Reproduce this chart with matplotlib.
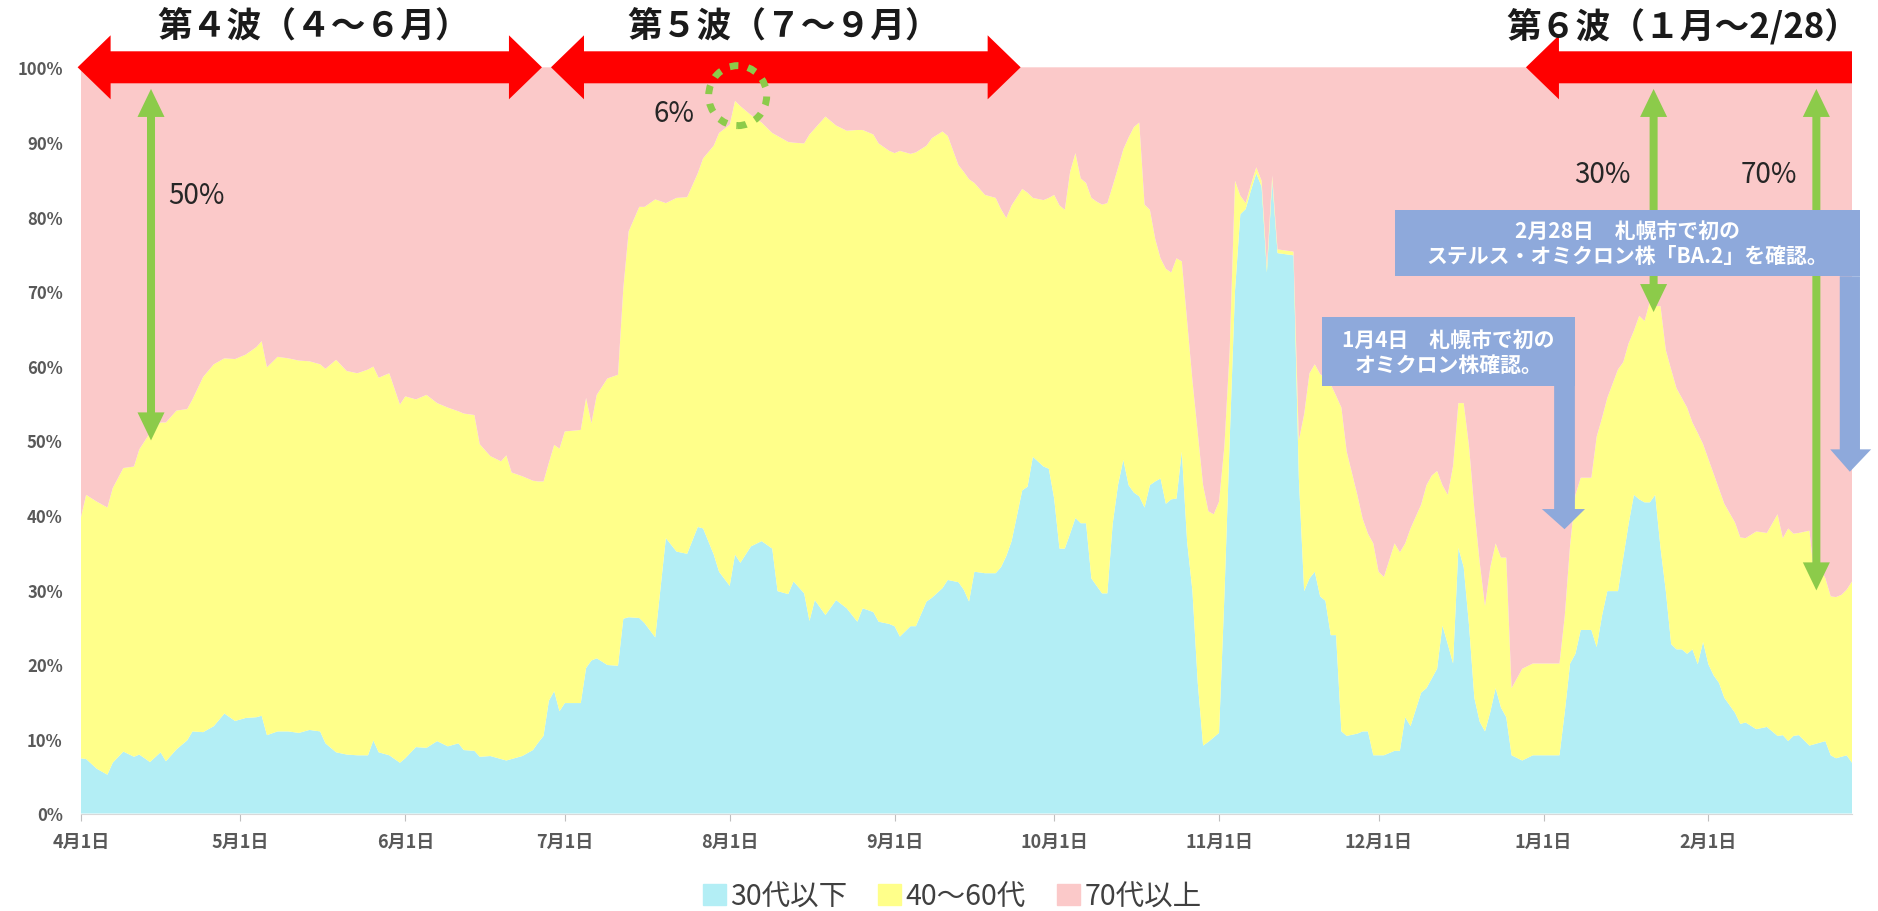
import pandas as pd
import matplotlib
matplotlib.use("Agg")
import matplotlib.pyplot as plt
from matplotlib.patches import Polygon, Rectangle, Ellipse

plt.rcParams['font.family'] = ['Noto Sans CJK JP', 'DejaVu Sans']

# days counted from 2021-04-01, shares in percent
start = pd.Timestamp("2021-04-01")
end = pd.Timestamp("2022-02-28")

day = [0, 1, 3, 5, 6, 8, 10, 11, 13, 15, 16, 18, 20, 21, 23, 25, 27, 29,
       31, 33, 34, 35, 37, 39, 41, 43, 45, 46, 48, 50, 52, 54, 55, 56, 58, 60,
       61, 63, 65, 67, 69, 71, 72, 74, 75, 77, 79, 80, 81, 83, 85, 86, 87, 88, 89, 90,
       91, 94, 95, 96, 97, 99, 101, 102, 103, 105, 106, 108, 110, 112, 114, 116, 117, 119, 120,
       122, 123, 124, 126, 128, 130, 131, 133, 134, 136, 137, 138, 140, 142, 144, 146, 147, 149, 150, 152,
       153, 154, 156, 157, 159, 160, 162, 163, 165, 166, 167, 168, 170, 172, 173, 174, 175, 177, 178, 179, 181, 182,
       183, 184, 185, 186, 187, 188, 189, 190, 191, 192, 193, 194, 195, 196, 197, 198, 199, 200, 201, 202, 203, 204,
       205, 206, 207, 208, 209, 210, 211, 212, 213,
       214, 215, 216, 217, 218, 219, 220, 221, 222, 223, 224, 225, 228, 229, 230, 231, 232, 233, 234, 235, 236, 237,
       238, 240, 241, 242, 243,
       244, 245, 247, 248, 249, 250, 252, 253, 254, 255, 256, 257, 258, 259, 260, 261, 262, 263, 264, 265, 266, 267,
       268, 269, 271, 273,
       278, 279, 280, 281, 282, 284, 285, 286, 287, 289, 290, 291, 292, 293, 294, 295, 296, 297, 298, 299, 300, 301,
       302, 303, 304, 305,
       306, 307, 308, 309, 311, 312, 313, 315, 317, 319, 320, 321, 322, 323, 325, 326, 327, 328, 329, 330, 331, 332, 333]

young = [7.4, 7.3, 6.0, 5.2, 6.8, 8.3, 7.6, 7.9, 6.9, 8.2, 7.0, 8.6, 9.8, 11.0, 10.9, 11.7, 13.4, 12.4,
         12.8, 12.9, 13.1, 10.5, 11.0, 11.0, 10.8, 11.2, 11.0, 9.4, 8.2, 7.9, 7.8, 7.8, 9.8, 8.2, 7.8, 6.8,
         7.4, 8.9, 8.8, 9.7, 9.0, 9.4, 8.5, 8.4, 7.6, 7.7, 7.3, 7.1, 7.3, 7.7, 8.5, 9.5, 10.4, 15.1, 16.4, 13.7,
         14.8, 14.8, 19.5, 20.5, 20.8, 19.9, 19.8, 26.1, 26.3, 26.2, 25.5, 23.6, 36.9, 35.1, 34.8, 38.4, 38.2, 34.7, 32.4,
         30.5, 34.7, 33.6, 35.8, 36.5, 35.5, 29.8, 29.4, 31.1, 29.5, 25.8, 28.6, 26.6, 28.6, 27.5, 25.7, 27.5, 27.0, 25.7, 25.4,
         25.1, 23.7, 25.1, 25.1, 28.4, 28.9, 30.2, 31.3, 31.0, 30.0, 28.4, 32.4, 32.2, 32.2, 33.0, 34.5, 36.5, 43.3, 43.8, 47.8, 46.5, 46.2,
         42.2, 35.5, 35.5, 37.5, 39.6, 38.9, 38.9, 31.5, 30.5, 29.5, 29.5, 38.8, 44.0, 47.4, 44.0, 43.0, 42.5, 41.0, 44.0, 44.5, 44.9, 41.5,
         42.1, 42.2, 48.5, 36.4, 29.8, 17.5, 9.1, 9.6, 10.2,
         10.8, 29.0, 50.0, 70.0, 80.3, 81.0, 83.5, 85.8, 84.0, 72.5, 84.8, 75.1, 74.8, 45.0, 29.8, 31.5, 32.4, 29.1, 28.5, 23.9, 23.9, 11.0,
         10.4, 10.7, 11.0, 11.0, 7.8,
         7.8, 7.8, 8.4, 8.4, 12.9, 11.7, 16.2, 16.8, 18.1, 19.4, 25.2, 22.7, 20.1, 35.6, 33.0, 25.2, 15.5, 12.3, 11.0, 13.6, 16.8, 14.2,
         12.9, 7.8, 7.1, 7.8,
         7.8, 13.6, 20.1, 21.4, 24.6, 24.6, 22.3, 26.5, 29.8, 29.8, 34.3, 38.8, 42.7, 42.1, 41.7, 41.7, 42.7, 35.6, 29.8, 22.7, 22.0, 22.0,
         21.4, 22.0, 20.0, 23.0,
         20.0, 18.5, 17.5, 15.5, 13.5, 12.0, 12.2, 11.3, 11.6, 10.4, 10.5, 9.7, 10.4, 10.5, 9.1, 9.3, 9.5, 9.7, 7.8, 7.4, 7.6, 7.8, 6.8]

middle = [32.2, 35.4, 35.8, 35.8, 36.8, 38.0, 38.9, 40.9, 44.1, 44.2, 45.4, 45.4, 44.4, 44.5, 47.6, 48.5, 47.6, 48.5,
          48.7, 49.6, 50.2, 49.3, 50.2, 50.0, 49.9, 49.4, 49.2, 50.2, 52.6, 51.4, 51.2, 51.7, 50.1, 50.2, 51.2, 48.0,
          48.5, 46.6, 47.3, 45.3, 45.4, 44.5, 45.1, 45.0, 41.9, 40.2, 39.9, 40.9, 38.4, 37.5, 36.1, 35.0, 34.1, 31.9, 33.0, 35.2,
          36.4, 36.6, 36.2, 31.8, 35.3, 38.4, 39.0, 44.3, 51.7, 55.1, 55.8, 58.7, 44.9, 47.4, 47.8, 47.4, 49.6, 54.8, 58.8,
          61.8, 60.8, 61.2, 57.8, 56.1, 55.7, 61.0, 60.6, 58.8, 60.3, 65.2, 63.2, 66.8, 63.6, 64.0, 65.9, 64.1, 64.0, 64.1, 63.4,
          63.4, 65.1, 63.3, 63.5, 61.1, 61.6, 61.2, 59.5, 55.9, 56.0, 56.6, 52.1, 50.7, 50.3, 48.0, 45.3, 45.0, 40.4, 39.4, 34.7, 35.7, 36.3,
          40.7, 46.0, 45.4, 48.5, 48.9, 46.2, 45.6, 51.0, 51.5, 52.1, 52.3, 45.3, 42.5, 41.6, 46.6, 49.0, 50.1, 40.6, 36.9, 32.5, 29.5, 31.5,
          30.4, 32.2, 25.5, 29.6, 28.2, 33.5, 34.9, 30.9, 29.9,
          31.0, 20.2, 12.1, 14.8, 2.5, 0.8, 0.8, 0.8, 0.8, 0.8, 0.7, 0.5, 0.5, 5.0, 23.7, 27.5, 27.8, 29.8, 29.8, 33.6, 32.1, 43.4,
          38.1, 32.0, 28.5, 26.5, 28.4,
          24.6, 23.9, 27.8, 26.6, 23.3, 26.5, 25.2, 27.2, 27.2, 26.5, 18.8, 20.0, 26.5, 19.4, 22.0, 24.0, 25.3, 21.4, 16.8, 19.4, 19.4, 20.1,
          21.4, 9.0, 12.3, 12.3,
          12.3, 12.9, 15.9, 21.3, 20.4, 20.4, 28.2, 26.5, 25.9, 29.7, 26.2, 24.2, 22.0, 24.6, 24.3, 26.9, 25.3, 32.4, 32.3, 36.8, 35.0, 33.7,
          33.0, 30.4, 31.0, 26.5,
          27.5, 27.0, 26.0, 26.0, 25.5, 25.0, 24.7, 26.5, 26.0, 29.7, 26.4, 28.5, 27.1, 27.1, 28.8, 21.8, 23.5, 21.8, 21.3, 21.6, 21.7, 22.2, 24.3]

elder = [60.4, 57.3, 58.2, 59.0, 56.4, 53.7, 53.5, 51.2, 49.0, 47.6, 47.6, 46.0, 45.8, 44.5, 41.5, 39.8, 39.0, 39.1,
         38.5, 37.5, 36.7, 40.2, 38.8, 39.0, 39.3, 39.4, 39.8, 40.4, 39.2, 40.7, 41.0, 40.5, 40.1, 41.6, 41.0, 45.2,
         44.1, 44.5, 43.9, 45.0, 45.6, 46.1, 46.4, 46.6, 50.5, 52.1, 52.8, 52.0, 54.3, 54.8, 55.4, 55.5, 55.5, 53.0, 50.6, 51.1,
         48.8, 48.6, 44.3, 47.7, 43.9, 41.7, 41.2, 29.6, 22.0, 18.7, 18.7, 17.7, 18.2, 17.5, 17.4, 14.2, 12.2, 10.5, 8.8,
         7.7, 4.5, 5.2, 6.4, 7.4, 8.8, 9.2, 10.0, 10.1, 10.2, 9.0, 8.2, 6.6, 7.8, 8.5, 8.4, 8.4, 9.0, 10.2, 11.2,
         11.5, 11.2, 11.6, 11.4, 10.5, 9.5, 8.6, 9.2, 13.1, 14.0, 15.0, 15.5, 17.1, 17.5, 19.0, 20.2, 18.5, 16.3, 16.8, 17.5, 17.8, 17.5,
         17.1, 18.5, 19.1, 14.0, 11.5, 14.9, 15.5, 17.5, 18.0, 18.4, 18.2, 15.9, 13.5, 11.0, 9.4, 8.0, 7.4, 18.4, 19.1, 23.0, 25.6, 27.0,
         27.5, 25.6, 26.0, 34.0, 42.0, 49.0, 56.0, 59.5, 59.9,
         58.2, 50.8, 37.9, 15.2, 17.2, 18.2, 15.7, 13.4, 15.2, 26.7, 14.5, 24.4, 24.7, 50.0, 46.5, 41.0, 39.8, 41.1, 41.7, 42.5, 44.0, 45.6,
         51.5, 57.3, 60.5, 62.5, 63.8,
         67.6, 68.3, 63.8, 65.0, 63.8, 61.8, 58.6, 56.0, 54.7, 54.1, 56.0, 57.3, 53.4, 45.0, 45.0, 50.8, 59.2, 66.3, 72.2, 67.0, 63.8, 65.7,
         65.7, 83.2, 80.6, 79.9,
         79.9, 73.5, 64.0, 57.3, 55.0, 55.0, 49.5, 47.0, 44.3, 40.5, 39.5, 37.0, 35.3, 33.3, 34.0, 31.4, 32.0, 32.0, 37.9, 40.5, 43.0, 44.3,
         45.6, 47.6, 49.0, 50.5,
         52.5, 54.5, 56.5, 58.5, 61.0, 63.0, 63.1, 62.2, 62.4, 59.9, 63.1, 61.8, 62.5, 62.4, 62.1, 68.9, 67.0, 68.5, 70.9, 71.0, 70.7, 70.0, 68.9]

series_labels = ["30代以下", "40～60代", "70代以上"]
colors = ["#B3EEF5", "#FFFF8A", "#FBC9C9"]

month_starts = pd.date_range("2021-04-01", "2022-02-01", freq="MS")
tick_pos = [(d - start).days for d in month_starts]
tick_labels = [f"{d.month}月1日" for d in month_starts]
last_day = (end - start).days

wave_titles = ["第４波（４～６月）", "第５波（７～９月）", "第６波（１月～2/28）"]
notes = ["1月4日　札幌市で初の\nオミクロン株確認。",
         "2月28日　札幌市で初の\nステルス・オミクロン株「BA.2」を確認。"]

RED = "#FF0000"
GREEN = "#8CCB4A"
BLUE = "#8EA9DB"
GRAY = "#595959"

W, H = 1878, 912
fig = plt.figure(figsize=(W / 100, H / 100), dpi=100)
ax_l, ax_r, ax_b, ax_t = 80.8, 1852, 97.5, 843.7
ax = fig.add_axes([ax_l / W, ax_b / H, (ax_r - ax_l) / W, (ax_t - ax_b) / H])

ax.stackplot(day, young, middle, elder, colors=colors, linewidth=0, zorder=1)
ax.set_xlim(0, last_day)
ax.set_ylim(0, 100)

ax.set_xticks(tick_pos)
ax.set_xticklabels(tick_labels, fontsize=13, fontweight="bold", color=GRAY)
ax.set_yticks(range(0, 101, 10))
ax.set_yticklabels([f"{v}%" for v in range(0, 101, 10)], fontsize=12, fontweight="bold", color=GRAY)
ax.tick_params(axis="y", length=0, pad=13)
ax.tick_params(axis="x", length=5, color="#BFBFBF", pad=8)
for s in ["top", "right", "left"]:
    ax.spines[s].set_visible(False)
ax.spines["bottom"].set_color("#D9D9D9")

# pixel -> data unit helpers
px_day = (ax_r - ax_l) / last_day
px_pct = (ax_t - ax_b) / 100


def harrow(x0, x1, y, left=True, right=True, shaft=32, head=64, hl=33):
    s, h, L = shaft / 2 / px_pct, head / 2 / px_pct, hl / px_day
    pts = [(x0, y), (x0 + L, y + h), (x0 + L, y + s)] if left else [(x0, y + s)]
    if right:
        pts += [(x1 - L, y + s), (x1 - L, y + h), (x1, y), (x1 - L, y - h), (x1 - L, y - s)]
    else:
        pts += [(x1, y + s), (x1, y - s)]
    pts += [(x0 + L, y - s), (x0 + L, y - h)] if left else [(x0, y - s)]
    ax.add_patch(Polygon(pts, closed=True, color=RED, lw=0, clip_on=False, zorder=5))


def varrow(x, y0, y1, shaft=8, head=27, hl=28):
    w, hw, L = shaft / 2 / px_day, head / 2 / px_day, hl / px_pct
    pts = [(x, y1), (x + hw, y1 - L), (x + w, y1 - L), (x + w, y0 + L), (x + hw, y0 + L),
           (x, y0), (x - hw, y0 + L), (x - w, y0 + L), (x - w, y1 - L), (x - hw, y1 - L)]
    ax.add_patch(Polygon(pts, closed=True, color=GREEN, lw=0, clip_on=False, zorder=3))


def callout(x0, x1, ytop, ybot, ax0, ax1, hx0, hx1, hbase, tip, text):
    ax.add_patch(Rectangle((x0, ybot), x1 - x0, ytop - ybot, color=BLUE, lw=0,
                           clip_on=False, zorder=4))
    pts = [(ax0, ybot), (ax1, ybot), (ax1, hbase), (hx1, hbase),
           ((ax0 + ax1) / 2, tip), (hx0, hbase), (ax0, hbase)]
    ax.add_patch(Polygon(pts, closed=True, color=BLUE, lw=0, clip_on=False, zorder=4))
    ax.text((x0 + x1) / 2, (ytop + ybot) / 2, text, ha="center", va="center",
            color="white", fontsize=15, fontweight="bold", linespacing=1.25, zorder=6)


# wave arrows and titles
harrow(-0.6, 86.7, 100)
harrow(88.4, 176.7, 100)
harrow(271.7, 333.0, 100, right=False)
for x, t in zip([314, 784, 1683], wave_titles):
    fig.text(x / W, 1 - 27 / H, t, ha="center", va="center", fontsize=25,
             fontweight="bold", color="#1A1A1A")

# green measurement arrows
varrow(13.2, 50.0, 97.1)
varrow(295.7, 67.2, 97.1)
varrow(326.3, 29.9, 97.1)
for x, y, t in [(21.7, 82.9, "50%"), (286.0, 85.7, "30%"), (317.3, 85.7, "70%"), (111.5, 93.9, "6%")]:
    ax.text(x, y, t, ha="center", va="center", fontsize=20, color="#262626", zorder=6)

ax.add_patch(Ellipse((123.5, 96.2), 2 * 29 / px_day, 2 * 30 / px_pct, fill=False,
                     ec=GREEN, lw=5, ls=(0, (1.25, 1.4)), clip_on=False, zorder=6))

# blue notes
callout(233.3, 280.9, 66.5, 57.3, 277.0, 280.9, 274.7, 282.8, 40.8, 38.1, notes[0])
callout(247.1, 334.5, 80.9, 72.0, 330.7, 334.5, 328.9, 336.6, 48.8, 45.8, notes[1])

handles = [Rectangle((0, 0), 1, 1, color=c) for c in colors]
fig.legend(handles, series_labels, loc="center", bbox_to_anchor=(0.507, 0.016), ncol=3,
           frameon=False, fontsize=20.5, handlelength=0.8, handleheight=0.8,
           handletextpad=0.15, columnspacing=1.1, labelcolor="#404040")

fig.savefig("out.png", dpi=100)
